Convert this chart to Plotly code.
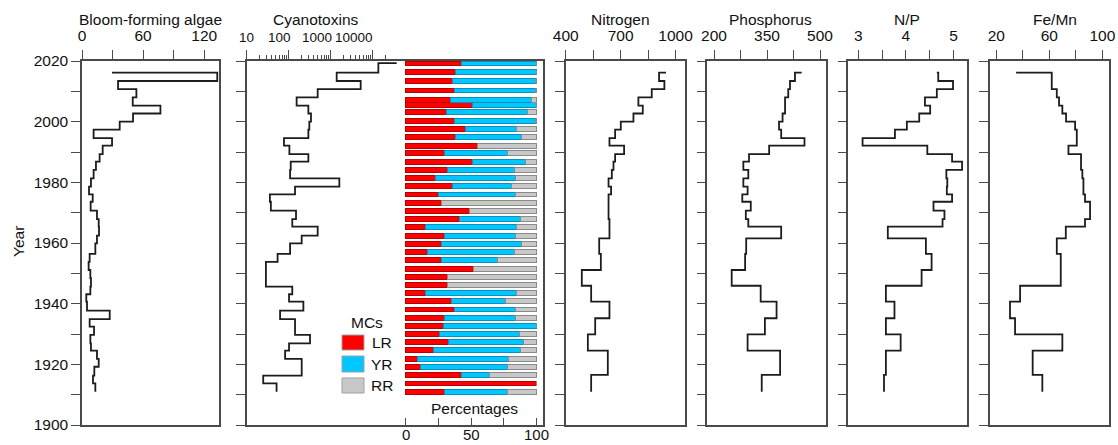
import plotly.graph_objects as go

W, H = 1118, 445

# ---------------- data ----------------
# core-slice boundary years (fine resolution: algae & cyanotoxins)
slice_years = [2016.2, 2013.4, 2010.7, 2008.0, 2005.3, 2002.7, 2000.0, 1997.4, 1994.6, 1992.1,
               1989.3, 1986.8, 1984.1, 1981.3, 1978.6, 1976.0, 1973.6, 1970.7, 1967.9, 1965.4,
               1962.4, 1959.9, 1956.4, 1953.8, 1951.1, 1948.4, 1945.6, 1943.1, 1940.7, 1937.7,
               1934.9, 1932.4, 1929.7, 1926.9, 1924.5, 1921.8, 1919.2, 1916.3, 1913.7, 1911.0]

algae = [29.5, 132.8, 35.4, 53.4, 49.8, 77.0, 50.1, 37.0, 11.4, 29.5, 20.3, 17.3, 13.7, 11.4,
         8.8, 6.9, 10.5, 8.5, 14.7, 16.4, 16.7, 14.7, 13.1, 7.5, 6.5, 8.2, 8.8, 8.2, 4.2, 4.9,
         27.2, 7.5, 11.8, 8.2, 8.8, 14.7, 16.4, 12.1, 10.8, 13.1]

toxin_years = [2019.3] + slice_years
toxins = [37600, 13770, 1403, 5228, 495, 156, 297, 343, 313, 297, 78, 105, 297, 113, 109, 1623,
          143, 36, 38, 151, 123, 495, 206, 109, 55, 29, 29, 29, 123, 103, 226, 63, 143, 143,
          325, 103, 83, 206, 206, 25, 52]

# geochemistry slice boundaries
geo_years = [2016.2, 2013.4, 2010.7, 2008.0, 2005.3, 2002.7, 2000.0, 1997.4, 1994.6, 1992.1,
             1989.3, 1986.8, 1984.1, 1981.3, 1978.6, 1976.0, 1973.6, 1970.7, 1967.9, 1965.4,
             1961.5, 1956.4, 1951.1, 1945.9, 1940.7, 1935.2, 1929.9, 1924.5, 1916.5, 1911.0]
nitrogen = [948, 910, 939, 870, 797, 821, 770, 701, 670, 639, 719, 670, 661, 652, 634, 648, 634,
            634, 634, 639, 639, 583, 592, 488, 539, 639, 561, 521, 630, 539]
phosphorus = [448, 429, 415, 410, 401, 401, 394, 384, 390, 456, 356, 299, 283, 297, 283, 295, 280,
              304, 290, 297, 390, 291, 288, 250, 332, 377, 344, 295, 387, 335]
np_ratio = [4.65, 4.68, 4.99, 4.65, 4.40, 4.51, 4.28, 4.02, 3.77, 3.09, 4.45, 4.97, 5.18, 4.85,
            4.87, 4.86, 4.97, 4.58, 4.81, 4.77, 3.62, 4.42, 4.54, 4.33, 3.58, 3.76, 3.58, 3.89,
            3.58, 3.54]
fe_mn = [34.9, 61.8, 61.8, 65.6, 67.3, 69.8, 72.6, 79.4, 80.7, 80.7, 74.4, 83.9, 83.9, 84.9, 85.7,
         85.7, 86.9, 90.7, 90.7, 86.9, 72.4, 65.6, 68.6, 68.6, 37.9, 30.3, 34.1, 69.8, 47.4, 54.7]

# microcystin congener percentages
mc_years = [2019.2, 2016.3, 2013.3, 2010.3, 2007.2, 2005.4, 2003.2, 2000.3, 1997.6, 1995.0,
            1992.1, 1989.6, 1986.8, 1984.2, 1981.4, 1978.8, 1976.0, 1973.3, 1970.6, 1967.9,
            1965.2, 1962.4, 1959.7, 1956.9, 1954.3, 1951.5, 1948.9, 1946.2, 1943.5, 1940.9,
            1938.1, 1935.4, 1932.7, 1930.0, 1927.3, 1924.6, 1921.8, 1919.2, 1916.5, 1913.7, 1911.0]
mc_lr = [43, 38, 36, 37, 34, 51, 31, 37, 46, 38, 55, 30, 51, 32, 23, 36, 25, 27, 49, 41, 15, 30,
         27, 17, 27, 52, 32, 32, 15, 35, 37, 30, 29, 26, 33, 21, 9, 11, 43, 100, 30]
mc_yr = [57, 62, 63, 62, 62, 49, 62, 62, 39, 51, 0, 48, 41, 51, 61, 45, 59, 0, 0, 47, 70, 54, 62,
         66, 43, 0, 0, 0, 70, 41, 47, 54, 71, 61, 57, 67, 70, 67, 21, 0, 48]
mc_rr = [0, 0, 1, 1, 4, 0, 7, 1, 15, 11, 45, 22, 8, 17, 16, 19, 16, 73, 51, 12, 15, 16, 11, 17,
         30, 48, 68, 68, 15, 24, 16, 16, 0, 13, 10, 12, 21, 22, 36, 0, 22]

pct_labels = [0, 50, 100]
year_ticks = list(range(1900, 2021, 10))
year_labels = [str(y) if y % 20 == 0 else '' for y in year_ticks]

# ---------------- styling ----------------
FONT = 'Liberation Sans, Arial, sans-serif'
AX = '#4a4a4a'
LINE = '#1c1c1c'
FS = 15.5


def px_x(p):
    return p / W


def px_y(p):
    return 1 - p / H


Y_DOM = [px_y(425), px_y(61)]

# panel domains in pixels
dom = {
    1: (82, 219), 2: (246.5, 397), 3: (397, 543), 4: (565.7, 684.7),
    5: (707.3, 825.7), 6: (848.3, 967.3), 7: (990, 1109),
}

fig = go.Figure()


def step(x, y, ax):
    fig.add_trace(go.Scatter(x=x, y=y, mode='lines', line=dict(shape='hv', color=LINE, width=1.8),
                             xaxis='x' + ('' if ax == 1 else str(ax)),
                             yaxis='y' + ('' if ax == 1 else str(ax)),
                             showlegend=False, hoverinfo='skip'))


step(algae, slice_years, 1)
step(toxins, toxin_years, 2)
step(nitrogen, geo_years, 4)
step(phosphorus, geo_years, 5)
step(np_ratio, geo_years, 6)
step(fe_mn, geo_years, 7)

for name, vals, col, edge in [('LR', mc_lr, '#ff0000', '#b80000'),
                              ('YR', mc_yr, '#00c8ff', '#0a8fc0'),
                              ('RR', mc_rr, '#c8c8c8', '#8a8a8a')]:
    fig.add_trace(go.Bar(x=vals, y=mc_years, orientation='h', width=1.6, name=name,
                         marker=dict(color=col, line=dict(color=edge, width=1)),
                         xaxis='x3', yaxis='y3', showlegend=False, hoverinfo='skip'))

common_x = dict(showgrid=False, zeroline=False, showline=True, linecolor=AX, linewidth=1.5,
                ticks='outside', ticklen=9, tickwidth=1.3, tickcolor=AX, side='top', mirror=True,
                tickfont=dict(size=FS, color='#111', family=FONT), automargin=False,
                fixedrange=True, ticklabelstandoff=3)
common_y = dict(range=[1900, 2020], domain=Y_DOM, showgrid=False, zeroline=False, showline=True,
                linecolor=AX, linewidth=1.5, ticks='outside', ticklen=9, tickwidth=1.3,
                tickcolor=AX, tickvals=year_ticks, automargin=False, fixedrange=True,
                tickfont=dict(size=FS, color='#111', family=FONT))

layout = dict(
    width=W, height=H, margin=dict(l=0, r=0, t=0, b=0),
    paper_bgcolor='white', plot_bgcolor='rgba(0,0,0,0)', barmode='stack',
    font=dict(family=FONT, size=FS, color='#111'), showlegend=False,
)

xcfg = {
    1: dict(range=[0, 134.5], tickvals=[0, 30, 60, 90, 120], ticktext=['0', '', '60', '', '120']),
    2: dict(type='log', range=[1, 4.583], tickvals=[10, 100, 1000, 10000], showticklabels=False,
            minor=dict(tickvals=[20, 30, 40, 50, 60, 70, 80, 90, 200, 300, 400, 500, 600, 700, 800,
                                 900, 2000, 3000, 4000, 5000, 6000, 7000, 8000, 9000, 20000],
                       ticks='outside', ticklen=4, tickcolor=AX, tickwidth=1)),
    3: dict(range=[-6.7, 105.1], side='bottom', ticks='inside', ticklen=7, showticklabels=False,
            tickvals=[0, 25, 50, 75, 100]),
    4: dict(range=[400, 1050], tickvals=[400, 550, 700, 850, 1000],
            ticktext=['400', '', '700', '', '1000']),
    5: dict(range=[181, 516], tickvals=[200, 275, 350, 425, 500],
            ticktext=['200', '', '350', '', '500']),
    6: dict(range=[2.79, 5.29], tickvals=[3, 3.5, 4, 4.5, 5], ticktext=['3', '', '4', '', '5']),
    7: dict(range=[15.2, 105], tickvals=[20, 40, 60, 80, 100],
            ticktext=['20', '', '60', '', '100']),
}

for i in range(1, 8):
    k = '' if i == 1 else str(i)
    xc = dict(common_x)
    xc.update(xcfg[i])
    xc['domain'] = [px_x(dom[i][0]), px_x(dom[i][1])]
    xc['anchor'] = 'y' + k
    layout['xaxis' + k] = xc
    yc = dict(common_y)
    yc['anchor'] = 'x' + k
    if i == 1:
        yc['ticktext'] = year_labels
        yc['mirror'] = True
    elif i == 2:
        yc['showticklabels'] = False
        yc['mirror'] = False
    elif i == 3:
        yc.update(side='right', ticks='', showticklabels=False, mirror=False)
    else:
        yc['showticklabels'] = False
        yc['mirror'] = True
    layout['yaxis' + k] = yc

fig.update_layout(**layout)

annotations = []


def ann(text, x, y, size=FS, angle=0):
    annotations.append(dict(text=text, x=px_x(x), y=px_y(y), xref='paper', yref='paper',
                            showarrow=False, xanchor='center', yanchor='middle', textangle=angle,
                            font=dict(size=size, family=FONT, color='#111')))


ann('Bloom-forming algae', 150.5, 19)
ann('Cyanotoxins', 316, 19)
ann('Nitrogen', 620, 19)
ann('Phosphorus', 770.8, 19)
ann('N/P', 906.7, 19)
ann('Fe/Mn', 1055, 19)
for lab, xp in [('10', 246), ('100', 279), ('1000', 317), ('10000', 353.5)]:
    ann(lab, xp, 37, size=13.5)
ann('Year', 19, 242, angle=-90)
ann('Percentages', 474, 408)
ann('MCs', 367, 322)

# percentage axis labels (placed on the bar axis scale)
for v in pct_labels:
    annotations.append(dict(text=str(v), x=v, xref='x3', y=px_y(434.5), yref='paper',
                            showarrow=False, xanchor='center', yanchor='middle',
                            font=dict(size=15, family=FONT, color='#111')))

shapes = []
for (lab, col, y0, y1) in [('LR', '#ff0000', 335, 350), ('YR', '#00c8ff', 356, 372),
                           ('RR', '#c8c8c8', 378, 393)]:
    shapes.append(dict(type='rect', xref='paper', yref='paper', x0=px_x(342), x1=px_x(364),
                       y0=px_y(y1), y1=px_y(y0), fillcolor=col, line=dict(color='#a0a0a0', width=1)))
    ann(lab, 382, (y0 + y1) / 2)

fig.update_layout(annotations=annotations, shapes=shapes)

fig.write_html('out.html', config={'displayModeBar': False},
               post_script="document.body.style.margin='0px';document.body.style.overflow='hidden';")
